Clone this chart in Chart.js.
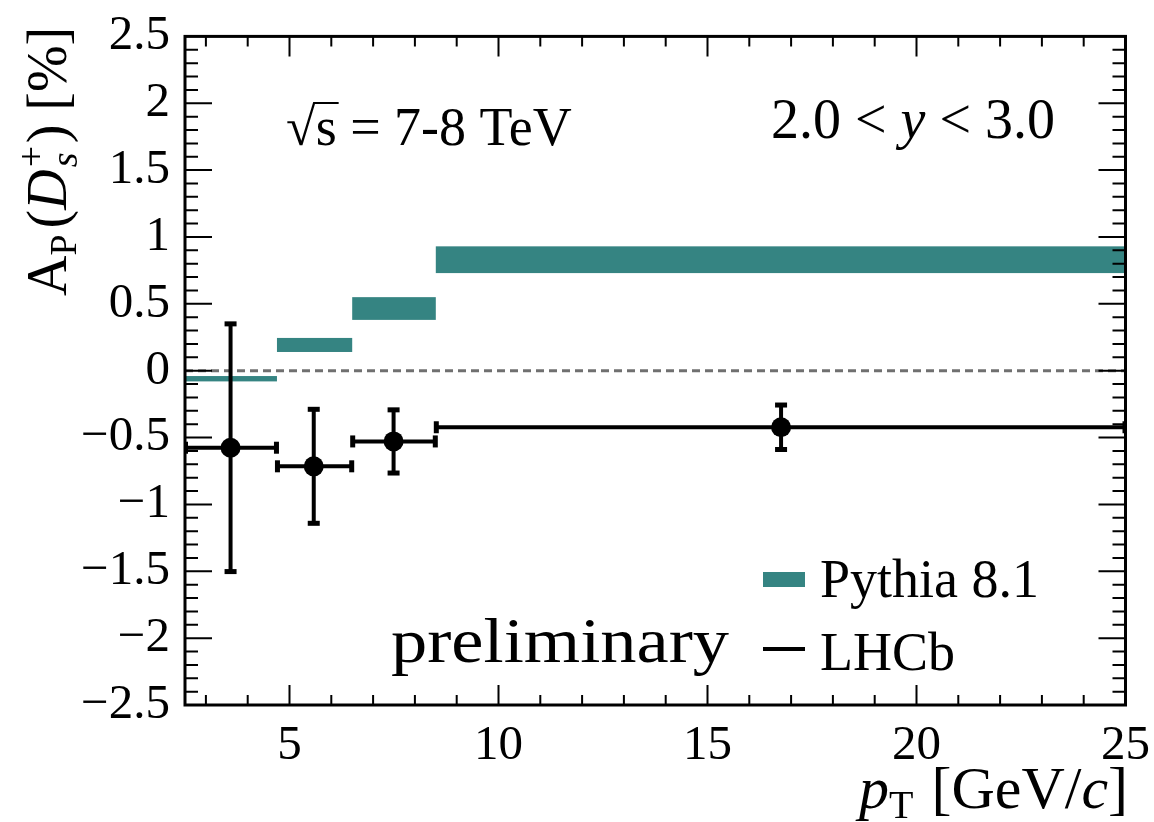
<!DOCTYPE html>
<html>
<head>
<meta charset="utf-8">
<script src="https://cdn.jsdelivr.net/npm/chart.js@4.4.1/dist/chart.umd.min.js"></script>
<style>
  html, body { margin: 0; background: #fff; }
  canvas { display: block; }
</style>
</head>
<body>
<canvas id="apChart" width="1154" height="822"></canvas>
<script>
/* ===== DATA ===== */
// LHCb measurement, pT bins in GeV/c, A_P in %
const lhcbPt = [3.59, 5.58, 7.49, 16.76];
const lhcbAp = [-0.576, -0.715, -0.529, -0.423];
const lhcbBinLo = [2.5, 4.7, 6.5, 8.5];
const lhcbBinHi = [4.7, 6.5, 8.5, 25];
const lhcbErr = [0.93, 0.43, 0.24, 0.17];

// Pythia 8.1 bands
const pythiaBinLo = [2.5, 4.7, 6.5, 8.5];
const pythiaBinHi = [4.7, 6.5, 8.5, 25];
const pythiaLow = [-0.08, 0.14, 0.38, 0.73];
const pythiaHigh = [-0.04, 0.245, 0.55, 0.93];

const xTickVals = [5, 10, 15, 20, 25];
const yTickVals = [-2.5, -2, -1.5, -1, -0.5, 0, 0.5, 1, 1.5, 2, 2.5];

const SERIF = "'Liberation Serif', 'Times New Roman', serif";
const TEAL = "#358482";

/* ===== HELPERS ===== */
function fmtMinus(v) {
  return v < 0 ? "\u2212" + Math.abs(v) : String(v);
}

// draw a list of text pieces side by side, returns end x
function drawPieces(ctx, x, y, pieces, measureOnly) {
  let cx = x;
  pieces.forEach(p => {
    ctx.font = `${p.style || ""} ${p.size}px ${SERIF}`;
    if (!measureOnly) ctx.fillText(p.t, cx, y + (p.dy || 0));
    cx += ctx.measureText(p.t).width + (p.gap || 0);
  });
  return cx;
}

/* ===== PLUGIN: bands, error bars ===== */
const underlay = {
  id: "underlay",
  beforeDatasetsDraw(chart) {
    const { ctx, chartArea: a, scales: { x, y } } = chart;
    ctx.save();
    ctx.beginPath();
    ctx.rect(a.left, a.top, a.right - a.left, a.bottom - a.top);
    ctx.clip();

    // zero line
    ctx.strokeStyle = "#707070";
    ctx.lineWidth = 3;
    ctx.setLineDash([8, 5]);
    ctx.beginPath();
    ctx.moveTo(a.left, y.getPixelForValue(0));
    ctx.lineTo(a.right, y.getPixelForValue(0));
    ctx.stroke();
    ctx.setLineDash([]);

    // pythia bands
    ctx.fillStyle = TEAL;
    pythiaBinLo.forEach((lo, i) => {
      const x0 = x.getPixelForValue(lo);
      const x1 = x.getPixelForValue(pythiaBinHi[i]);
      const y0 = y.getPixelForValue(pythiaHigh[i]);
      const y1 = y.getPixelForValue(pythiaLow[i]);
      ctx.fillRect(x0, y0, x1 - x0, y1 - y0);
    });

    // LHCb error bars
    ctx.fillStyle = "#000";
    ctx.strokeStyle = "#000";
    ctx.lineWidth = 4;
    lhcbPt.forEach((pt, i) => {
      const px = x.getPixelForValue(pt);
      const py = y.getPixelForValue(lhcbAp[i]);
      const xl = x.getPixelForValue(lhcbBinLo[i]);
      const xr = x.getPixelForValue(lhcbBinHi[i]);
      const yt = y.getPixelForValue(lhcbAp[i] + lhcbErr[i]);
      const yb = y.getPixelForValue(lhcbAp[i] - lhcbErr[i]);
      ctx.beginPath();
      ctx.moveTo(xl, py); ctx.lineTo(xr, py);
      ctx.moveTo(px, yt); ctx.lineTo(px, yb);
      ctx.stroke();
      // caps
      ctx.fillRect(xl - 2, py - 6, 5, 12);
      ctx.fillRect(xr - 3, py - 6, 5, 12);
      ctx.fillRect(px - 6, yt - 2, 12, 5);
      ctx.fillRect(px - 6, yb - 3, 12, 5);
    });
    ctx.restore();
  },

  /* ===== frame, ticks, labels ===== */
  afterDraw(chart) {
    const { ctx, chartArea: a, scales: { x, y } } = chart;
    ctx.save();
    ctx.strokeStyle = "#000";

    // ticks inward on all sides
    ctx.lineWidth = 2;
    ctx.beginPath();
    for (let v = 3; v <= 24; v++) {
      const px = x.getPixelForValue(v);
      const len = v % 5 === 0 ? 20 : 10;
      ctx.moveTo(px, a.bottom); ctx.lineTo(px, a.bottom - len);
      ctx.moveTo(px, a.top); ctx.lineTo(px, a.top + len);
    }
    for (let k = -24; k <= 24; k++) {
      const py = y.getPixelForValue(k / 10);
      const len = k % 5 === 0 ? 27 : 13;
      ctx.moveTo(a.left, py); ctx.lineTo(a.left + len, py);
      ctx.moveTo(a.right, py); ctx.lineTo(a.right - len, py);
    }
    ctx.stroke();

    ctx.lineWidth = 3;
    ctx.strokeRect(a.left, a.top, a.right - a.left, a.bottom - a.top);

    ctx.fillStyle = "#000";
    ctx.textBaseline = "alphabetic";
    ctx.textAlign = "left";

    // sqrt(s) label
    ctx.font = `54px ${SERIF}`;
    ctx.fillText("\u221A", 286, 145);
    const rw = ctx.measureText("\u221A").width;
    const sw = ctx.measureText("s").width;
    ctx.fillText("s", 286 + rw, 145);
    ctx.lineWidth = 2;
    ctx.beginPath();
    ctx.moveTo(286 + rw - 2, 103);
    ctx.lineTo(286 + rw + sw + 2, 103);
    ctx.stroke();
    ctx.fillText(" = 7-8 TeV", 286 + rw + sw, 145);

    // rapidity range
    drawPieces(ctx, 771, 138, [
      { t: "2.0 < ", size: 56 },
      { t: "y", size: 56, style: "italic" },
      { t: " < 3.0", size: 56 }
    ]);

    // preliminary, stretched to width
    ctx.font = `64px ${SERIF}`;
    const pw = ctx.measureText("preliminary").width;
    ctx.save();
    ctx.translate(391, 662);
    ctx.scale(338 / pw, 1);
    ctx.fillText("preliminary", 0, 0);
    ctx.restore();

    // legend
    ctx.fillStyle = TEAL;
    ctx.fillRect(763, 572, 42, 15);
    ctx.fillStyle = "#000";
    ctx.fillRect(763, 647, 42, 4);
    ctx.font = `54px ${SERIF}`;
    ctx.fillText("Pythia 8.1", 820, 597);
    ctx.fillText("LHCb", 820, 670);

    // x axis title, right aligned
    const xPieces = [
      { t: "p", size: 60, style: "italic" },
      { t: "T", size: 40, dy: 10, gap: 18 },
      { t: "[GeV/", size: 60 },
      { t: "c", size: 60, style: "italic" },
      { t: "]", size: 60 }
    ];
    const xw = drawPieces(ctx, 0, 0, xPieces, true);
    drawPieces(ctx, 1128 - xw, 808, xPieces);

    // y axis title, rotated
    ctx.save();
    ctx.translate(66, 296);
    ctx.rotate(-Math.PI / 2);
    let cx = drawPieces(ctx, 0, 0, [
      { t: "A", size: 56 },
      { t: "P", size: 38, dy: 10, gap: 6 },
      { t: "(", size: 56 },
      { t: "D", size: 56, style: "italic", gap: 2 }
    ]);
    ctx.font = `38px ${SERIF}`;
    ctx.fillText("+", cx, -22);
    ctx.font = `italic 38px ${SERIF}`;
    ctx.fillText("s", cx, 11);
    cx += 24;
    drawPieces(ctx, cx, 0, [
      { t: ")", size: 56, gap: 14 },
      { t: "[%]", size: 56 }
    ]);
    ctx.restore();

    ctx.restore();
  }
};

/* ===== CHART ===== */
const tickFont = { family: SERIF, size: 49 };

new Chart(document.getElementById("apChart"), {
  type: "scatter",
  data: {
    datasets: [{
      label: "LHCb",
      data: lhcbPt.map((pt, i) => ({ x: pt, y: lhcbAp[i] })),
      pointRadius: 10,
      pointBackgroundColor: "#000",
      pointBorderWidth: 0,
      showLine: false
    }]
  },
  options: {
    responsive: false,
    animation: false,
    layout: { padding: { top: 31, right: 27, left: 0, bottom: 0 } },
    plugins: { legend: { display: false }, tooltip: { enabled: false } },
    scales: {
      x: {
        type: "linear",
        min: 2.5,
        max: 25,
        grid: { display: false },
        border: { display: false },
        ticks: { font: tickFont, color: "#000", padding: 4, maxRotation: 0, autoSkip: false },
        afterBuildTicks: s => { s.ticks = xTickVals.map(v => ({ value: v })); },
        afterFit: s => { s.height = 117; }
      },
      y: {
        type: "linear",
        min: -2.5,
        max: 2.5,
        grid: { display: false },
        border: { display: false },
        ticks: { font: tickFont, color: "#000", padding: 7, autoSkip: false, callback: v => fmtMinus(v) },
        afterBuildTicks: s => { s.ticks = yTickVals.map(v => ({ value: v })); },
        afterFit: s => { s.width = 185; }
      }
    }
  },
  plugins: [underlay]
});
</script>
</body>
</html>
